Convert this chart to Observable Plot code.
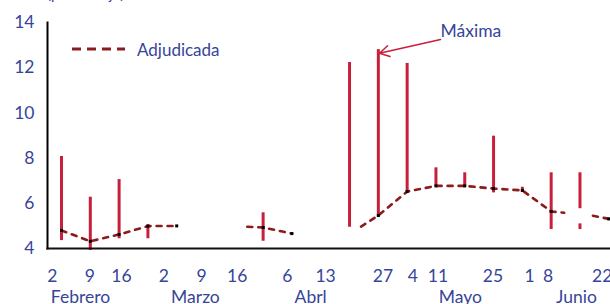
<!DOCTYPE html>
<html><head><meta charset="utf-8">
<script src="https://cdn.jsdelivr.net/npm/d3@7"></script>
<script src="https://cdn.jsdelivr.net/npm/@observablehq/plot@0.6"></script>
<style>
body{margin:0;background:#fff;}
#wrap{position:relative;width:610px;height:304px;overflow:hidden;font-family:Lato,sans-serif;}
#unit{position:absolute;left:47px;top:-14px;font-size:15px;line-height:15px;color:#36459a;white-space:nowrap;}
#legend{position:absolute;left:72px;top:39px;height:20px;display:flex;align-items:center;color:#36459a;font-size:17px;line-height:17px;}
#legend svg{margin-right:12px;}
</style></head><body>
<div id="wrap"><div id="unit">(porcentaje)</div></div>
<script>
// Week index of each auction (0 = first plotted week)
const rangeX    = [0, 1, 2, 3, 7, 10, 11, 12, 13, 14, 15, 16, 17, 18, 18];
const rangeLow  = [4.35, 3.91, 4.43, 4.43, 4.32, 4.94, 5.39, 6.52, 6.74, 6.74, 6.46, 6.48, 4.84, 5.76, 4.84];
const rangeHigh = [8.07, 6.27, 7.05, 5.05, 5.58, 12.23, 12.8, 12.19, 7.57, 7.35, 8.97, 6.71, 7.35, 7.35, 5.09];

// Adjudicada (null = gap in the line)
const adjX = [0, 1, 2, 3, 4, 4.5, 6.45, 7, 8, 9, 10.4, 11, 12, 13, 14, 15, 16, 17, 17.45, 17.8, 18.45, 19];
const adjY = [4.80, 4.32, 4.62, 4.99, 5.00, null, 4.96, 4.93, 4.66, null, 4.97, 5.46, 6.52, 6.77, 6.77, 6.65, 6.57, 5.64, 5.58, null, 5.45, 5.31];

// Day tick labels and their positions on the week axis
const dayTickPos    = [-0.32, 0.98, 2.08, 3.55, 4.86, 6.10, 7.84, 9.17, 11.16, 12.20, 13.07, 14.98, 16.25, 16.89, 18.77];
const dayTickLabels = ["2", "9", "16", "2", "9", "16", "6", "13", "27", "4", "11", "25", "1", "8", "22"];
const monthPos    = [0.66, 4.65, 8.65, 13.85, 17.88];
const monthLabels = ["Febrero", "Marzo", "Abrl", "Mayo", "Junio"];

const yTicks = [4, 6, 8, 10, 12, 14];
const legendLabel = "Adjudicada";
const annotation = [{label: "Máxima", tx: 13.16, ty: 13.62, x1: 13.16, y1: 13.25, x2: 11.04, y2: 12.64}];

const navy = "#36459a", crimson = "#c8203c", darkRed = "#8b1c1c";

const ranges = rangeX.map((x, i) => ({x, low: rangeLow[i], high: rangeHigh[i]}));
const adj = adjX.map((x, i) => ({x, y: adjY[i]}));
const dayMap = new Map(dayTickPos.map((p, i) => [p, dayTickLabels[i]]));
const monthMap = new Map(monthPos.map((p, i) => [p, monthLabels[i]]));

const chart = Plot.plot({
  width: 610, height: 304,
  marginLeft: 47, marginRight: 0, marginTop: 22, marginBottom: 56,
  style: {fontFamily: "Lato, sans-serif", fontSize: "17.5px", color: navy, background: "transparent", overflow: "visible"},
  x: {domain: [-0.486, 19.06]},
  y: {domain: [4, 14]},
  marks: [
    Plot.ruleX(ranges, {x: "x", y1: "low", y2: "high", stroke: crimson, strokeWidth: 3}),
    Plot.line(adj, {x: "x", y: "y", stroke: darkRed, strokeWidth: 2.6, strokeDasharray: "5,6"}),
    Plot.dot(adj.filter(d => Number.isInteger(d.x) && d.y != null), {x: "x", y: "y", symbol: "square", r: 1.7, fill: "black"}),
    Plot.axisY({ticks: yTicks, tickSize: 0, tickPadding: 13, label: null, fill: navy}),
    Plot.axisX({ticks: dayTickPos, tickFormat: d => dayMap.get(d), tickSize: 0, tickPadding: 21, label: null, fill: navy}),
    Plot.axisX({ticks: monthPos, tickFormat: d => monthMap.get(d), tickSize: 0, tickPadding: 42, label: null, fill: navy}),
    Plot.frame({anchor: "left", stroke: "black", strokeWidth: 2}),
    Plot.frame({anchor: "bottom", stroke: "#111", strokeWidth: 2.2}),
    Plot.arrow(annotation, {x1: "x1", y1: "y1", x2: "x2", y2: "y2", stroke: crimson, strokeWidth: 1.5, headLength: 11}),
    Plot.text(annotation, {x: "tx", y: "ty", text: "label", textAnchor: "start", fill: navy, fontSize: 17.5})
  ]
});
const wrap = document.getElementById("wrap");
wrap.insertBefore(chart, wrap.firstChild);
chart.style.position = "absolute"; chart.style.left = "0"; chart.style.top = "0";

const leg = document.createElement("div");
leg.id = "legend";
leg.innerHTML = `<svg width="53" height="6"><line x1="0" y1="3" x2="53" y2="3" stroke="${darkRed}" stroke-width="3" stroke-dasharray="9,6"/></svg><span>${legendLabel}</span>`;
wrap.appendChild(leg);
</script>
</body></html>
